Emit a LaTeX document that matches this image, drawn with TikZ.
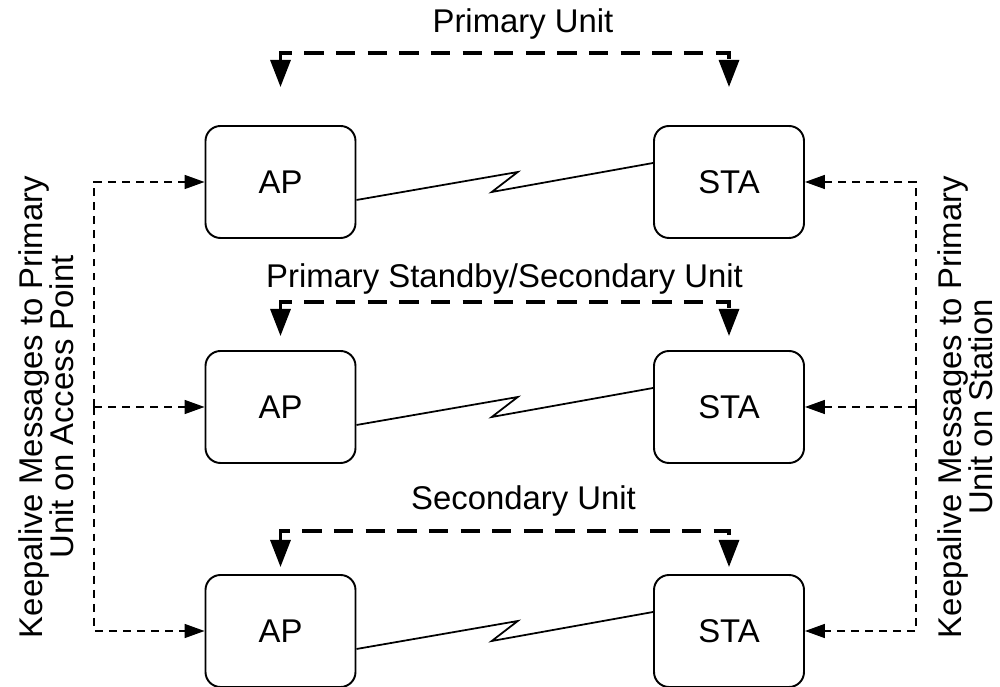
\documentclass[tikz,border=0pt]{standalone}
\usepackage{fontspec}
\setmainfont{Liberation Sans}
\usetikzlibrary{arrows.meta,calc}
\def\unitbox{\node[draw,line width=1.1pt,rounded corners=0.3cm,minimum width=3cm,minimum height=2.24cm]}
\def\drawunit{\draw[line width=1.8pt,dash pattern=on 11pt off 7pt,{Triangle[length=0.54cm,width=0.4cm]}-{Triangle[length=0.54cm,width=0.4cm]}]}
\def\drawkeep{\draw[line width=0.9pt,dash pattern=on 4.5pt off 3.5pt,-{Triangle[length=0.4cm,width=0.28cm]}]}
\def\drawradio{\draw[line width=1pt]}

\begin{document}
\begin{tikzpicture}[font=\fontsize{18.7}{17.5}\selectfont]
\useasboundingbox (0,0) rectangle (20,13.74);
\unitbox (ap1) at (5.61,10.1) {AP};
\unitbox (sta1) at (14.58,10.1) {STA};
\unitbox (ap2) at (5.61,5.6) {AP};
\unitbox (sta2) at (14.58,5.6) {STA};
\unitbox (ap3) at (5.61,1.12) {AP};
\unitbox (sta3) at (14.58,1.12) {STA};
\node (pu) at (10.46,13.26) {Primary Unit};
\node (psu) at (10.09,8.15) {Primary Standby/Secondary Unit};
\node (su) at (10.47,3.72) {Secondary Unit};
\node[rotate=90,align=center] (kap) at (0.92,5.6) {Keepalive Messages to Primary\\Unit on Access Point};
\node[rotate=90,align=center] (ksta) at (19.3,5.6) {Keepalive Messages to Primary\\Unit on Station};
\coordinate (ap1t) at (5.61,12.0);
\coordinate (sta1t) at (14.58,12.0);
\coordinate (ap2t) at (5.61,7.02);
\coordinate (sta2t) at (14.58,7.02);
\coordinate (ap3t) at (5.61,2.4);
\coordinate (sta3t) at (14.58,2.4);
\coordinate (kl) at (1.88,5.6);
\coordinate (kr) at (18.32,5.6);
\drawunit (ap1t) -- ++(0,0.68) -| (sta1t);
\drawunit (ap2t) -- ++(0,0.68) -| (sta2t);
\drawunit (ap3t) -- ++(0,0.72) -| (sta3t);
\drawkeep (kl) |- (ap1);
\drawkeep (kl) -- (ap2);
\drawkeep (kl) |- (ap3);
\drawkeep (kr) |- (sta1);
\drawkeep (kr) -- (sta2);
\drawkeep (kr) |- (sta3);
\drawradio ($(ap1.east)+(0,-0.36)$) -- ($(ap1)!0.5!(sta1)+(0.26,0.2)$) -- ($(ap1)!0.5!(sta1)+(-0.26,-0.2)$) -- ($(sta1.west)+(0,0.38)$);
\drawradio ($(ap2.east)+(0,-0.36)$) -- ($(ap2)!0.5!(sta2)+(0.26,0.2)$) -- ($(ap2)!0.5!(sta2)+(-0.26,-0.2)$) -- ($(sta2.west)+(0,0.38)$);
\drawradio ($(ap3.east)+(0,-0.36)$) -- ($(ap3)!0.5!(sta3)+(0.26,0.2)$) -- ($(ap3)!0.5!(sta3)+(-0.26,-0.2)$) -- ($(sta3.west)+(0,0.38)$);
\end{tikzpicture}
\end{document}
